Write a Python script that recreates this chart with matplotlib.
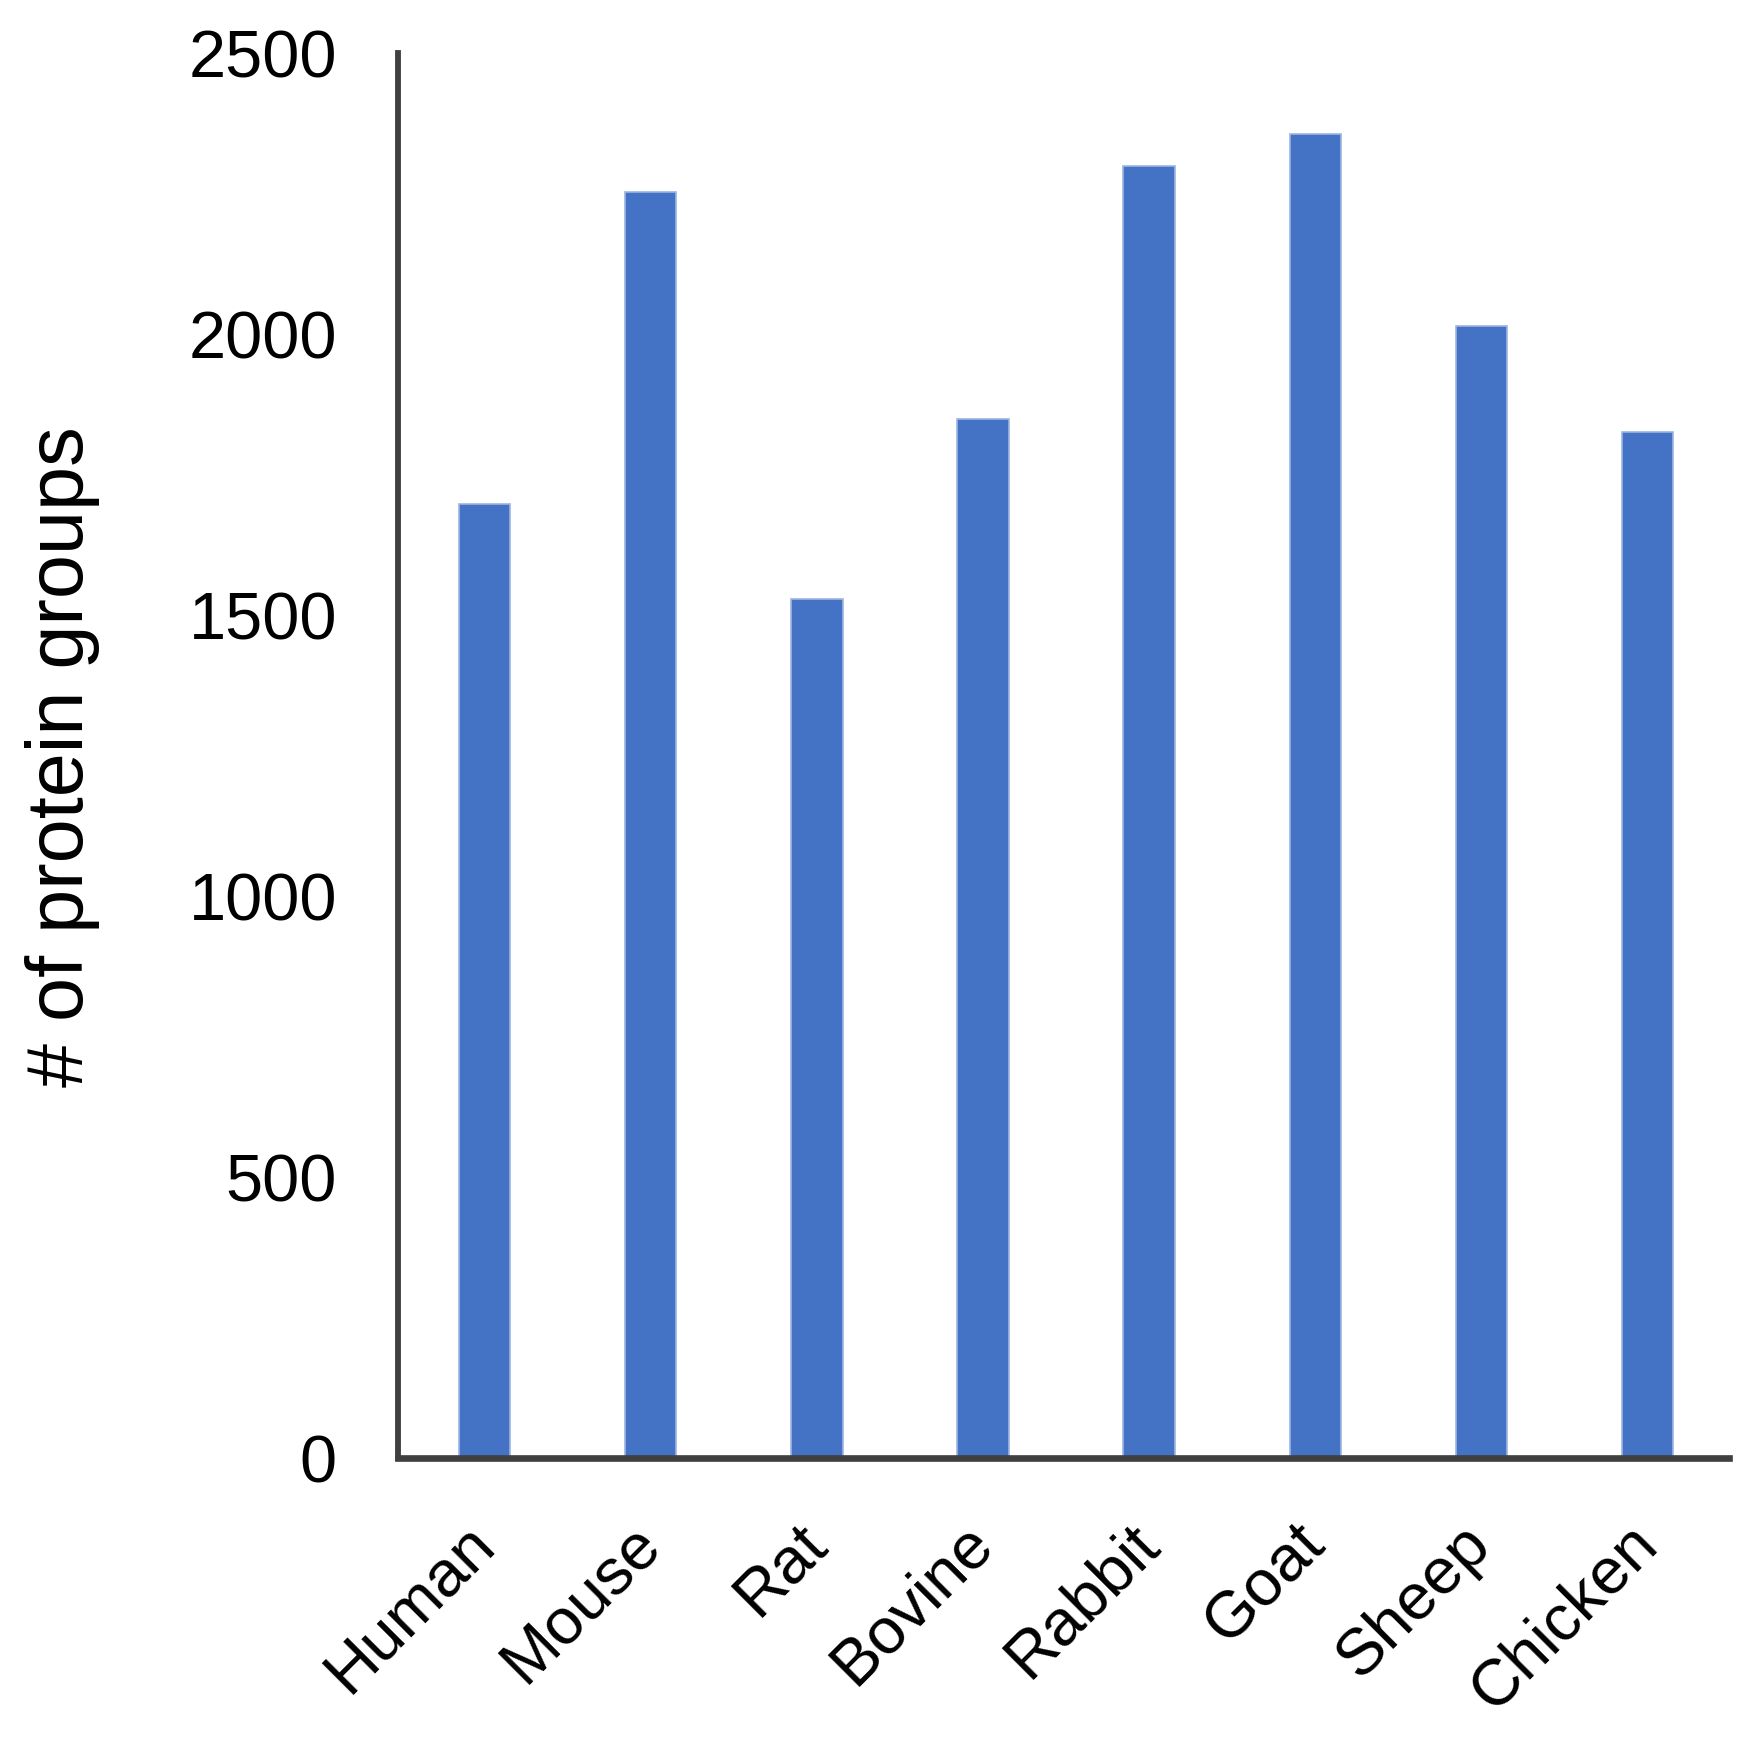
import matplotlib
matplotlib.use('Agg')
import matplotlib.pyplot as plt
import numpy as np

# protein groups identified per species
species = ['Human', 'Mouse', 'Rat', 'Bovine', 'Rabbit', 'Goat', 'Sheep', 'Chicken']
protein_groups = [1698, 2252, 1528, 1849, 2298, 2355, 2014, 1825]
y_ticks = [0, 500, 1000, 1500, 2000, 2500]

plt.rcParams['font.family'] = ['Liberation Sans', 'DejaVu Sans']

figure = plt.figure(figsize=(17.49, 17.40), dpi=100)
axis = figure.add_axes([0.2276, 0.1615, 0.761, 0.8075])

x = np.arange(len(species))
axis.bar(x, protein_groups, width=0.31, color='#4472C4', edgecolor='#9DB5E2', linewidth=1.2, zorder=2)

axis.set_xlim(-0.52, 7.49)
axis.set_ylim(0, 2500)
axis.set_yticks(y_ticks)
axis.set_yticklabels([str(t) for t in y_ticks], fontsize=48)
axis.set_xticks(x)
axis.set_xticklabels(species, fontsize=47, rotation=45, ha='right', va='center', rotation_mode='anchor')
axis.tick_params(axis='y', length=0, pad=44)
axis.tick_params(axis='x', length=0, pad=54)

for side in ['top', 'right']:
    axis.spines[side].set_visible(False)
axis.spines['left'].set_color('#404040')
axis.spines['left'].set_linewidth(4.2)
axis.spines['bottom'].set_color('#404040')
axis.spines['bottom'].set_linewidth(4.8)
axis.spines['bottom'].set_zorder(3)

axis.set_ylabel('# of protein groups', fontsize=57, labelpad=64)

figure.savefig('out.png', dpi=100)
